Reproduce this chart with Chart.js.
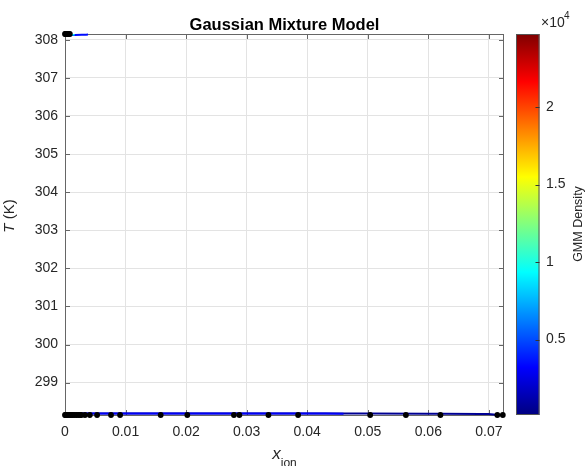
<!DOCTYPE html>
<html>
<head>
<meta charset="utf-8">
<script src="https://cdn.jsdelivr.net/npm/chart.js@4.4.1/dist/chart.umd.min.js"></script>
<style>
html,body{margin:0;padding:0;background:#fff;}
#wrap{position:relative;width:587px;height:466px;}
</style>
</head>
<body>
<div id="wrap"><canvas id="c" width="587" height="466"></canvas></div>
<script>
// ---- data ----
const xIonBottom = [0, 0.0001, 0.0002, 0.0003, 0.0005, 0.0007, 0.0009, 0.0011, 0.0013, 0.0016, 0.0019, 0.0022, 0.0025, 0.0027,
  0.0033, 0.0041, 0.0053, 0.0076, 0.0091, 0.0158, 0.0202, 0.0279, 0.0288, 0.0336, 0.0385, 0.0504, 0.0563, 0.0620, 0.0714, 0.0723];
const tBottom = 298.15;
const xIonTop = [0, 0.0001, 0.0002, 0.0004, 0.0006, 0.0008];
const tTop = 308.15;

// contour paths (x, T) and their density levels
const contourLowX = [0, 0.02, 0.04, 0.06, 0.0700, 0.0712];
const contourLowT = [298.187, 298.188, 298.187, 298.185, 298.178, 298.155];
const contourLowLevel = 600;
const contourMidX = [0, 0.01, 0.02, 0.03, 0.04, 0.046];
const contourMidT = [298.192, 298.192, 298.192, 298.191, 298.19, 298.186];
const contourMidLevel = 3000;
const contourTopX = [0.0003, 0.0015, 0.0028, 0.0038];
const contourTopT = [308.122, 308.124, 308.128, 308.136];
const contourTopLevel = 3500;
const contourTop2X = [0.0005, 0.0010, 0.0016];
const contourTop2T = [308.128, 308.129, 308.131];
const contourTop2Level = 9500;

const xTicks = [0, 0.01, 0.02, 0.03, 0.04, 0.05, 0.06, 0.07];
const yTicks = [299, 300, 301, 302, 303, 304, 305, 306, 307, 308];
const cbTicks = [5000, 10000, 15000, 20000];
const cbMin = 130, cbMax = 24720;
const xMin = 0, xMax = 0.0725, yMin = 298.15, yMax = 308.15;

// ---- jet colormap ----
function jet(t){
  t = Math.max(0, Math.min(1, t));
  const r = Math.max(0, Math.min(1, 1.5 - Math.abs(4*t - 3)));
  const g = Math.max(0, Math.min(1, 1.5 - Math.abs(4*t - 2)));
  const b = Math.max(0, Math.min(1, 1.5 - Math.abs(4*t - 1)));
  return `rgb(${Math.round(r*255)},${Math.round(g*255)},${Math.round(b*255)})`;
}
const levelColor = v => jet((v - cbMin)/(cbMax - cbMin));
const pts = (xs, ys) => xs.map((x,i)=>({x, y: Array.isArray(ys) ? ys[i] : ys}));

const FONT = "'Liberation Sans', Arial, Helvetica, sans-serif";
const TXT = '#262626';

const decor = {
  id: 'decor',
  beforeDatasetsDraw(chart){
    const ctx = chart.ctx, ca = chart.chartArea;
    const cb = chart.scales.cb;
    const xs = chart.scales.x, ys = chart.scales.y;
    ctx.save();
    // colorbar
    const top = cb.getPixelForValue(cbMax), bot = cb.getPixelForValue(cbMin);
    const x0 = ca.right + 12, w = 23.5;
    const g = ctx.createLinearGradient(0, bot, 0, top);
    for (let i=0;i<=40;i++){ g.addColorStop(i/40, jet(i/40)); }
    ctx.fillStyle = g;
    ctx.fillRect(x0, top, w, bot-top);
    ctx.strokeStyle = '#555'; ctx.lineWidth = 1;
    ctx.strokeRect(x0+0.5, top+0.5, w-1, bot-top-1);
    ctx.strokeStyle = '#333';
    cbTicks.forEach(v=>{
      const y = Math.round(cb.getPixelForValue(v))+0.5;
      ctx.beginPath(); ctx.moveTo(x0+w-4, y); ctx.lineTo(x0+w, y); ctx.stroke();
    });
    // axes box
    ctx.strokeStyle = '#666'; ctx.lineWidth = 1;
    ctx.strokeRect(Math.round(ca.left)+0.5, Math.round(ca.top)+0.5, Math.round(ca.right-ca.left)-1, Math.round(ca.bottom-ca.top));
    // inward ticks
    xTicks.forEach(v=>{
      const x = Math.round(xs.getPixelForValue(v))+0.5;
      ctx.beginPath(); ctx.moveTo(x, ca.bottom); ctx.lineTo(x, ca.bottom-5); ctx.stroke();
      ctx.beginPath(); ctx.moveTo(x, ca.top); ctx.lineTo(x, ca.top+5); ctx.stroke();
    });
    yTicks.forEach(v=>{
      const y = Math.round(ys.getPixelForValue(v))+0.5;
      ctx.beginPath(); ctx.moveTo(ca.left, y); ctx.lineTo(ca.left+5, y); ctx.stroke();
      ctx.beginPath(); ctx.moveTo(ca.right, y); ctx.lineTo(ca.right-5, y); ctx.stroke();
    });
    ctx.restore();
  },
  afterDraw(chart){
    const ctx = chart.ctx, ca = chart.chartArea;
    ctx.save();
    // title
    ctx.fillStyle = '#000';
    ctx.font = `bold 16.5px ${FONT}`;
    ctx.textAlign = 'center'; ctx.textBaseline = 'alphabetic';
    ctx.fillText('Gaussian Mixture Model', (ca.left+ca.right)/2, 30);
    // x label: x_ion
    ctx.fillStyle = TXT;
    ctx.font = `italic 17px ${FONT}`;
    const cx = (ca.left+ca.right)/2;
    ctx.textAlign = 'left';
    const wx = ctx.measureText('x').width;
    ctx.font = `12px ${FONT}`;
    const wi = ctx.measureText('ion').width;
    const sx = cx - (wx+wi)/2;
    ctx.font = `italic 17px ${FONT}`;
    ctx.fillText('x', sx, 459);
    ctx.font = `12px ${FONT}`;
    ctx.fillText('ion', sx+wx, 467);
    // y label: T (K)
    ctx.save();
    ctx.translate(14, 216);
    ctx.rotate(-Math.PI/2);
    ctx.font = `italic 15px ${FONT}`;
    const wT = ctx.measureText('T').width;
    ctx.font = `15px ${FONT}`;
    const wK = ctx.measureText(' (K)').width;
    ctx.textAlign = 'left';
    ctx.font = `italic 15px ${FONT}`;
    ctx.fillText('T', -(wT+wK)/2, 0);
    ctx.font = `15px ${FONT}`;
    ctx.fillText(' (K)', -(wT+wK)/2 + wT, 0);
    ctx.restore();
    // colorbar exponent
    ctx.font = `14px ${FONT}`;
    ctx.textAlign = 'left';
    ctx.fillText('\u00d710', 541, 27);
    ctx.font = `10px ${FONT}`;
    ctx.fillText('4', 564, 19);
    // colorbar label
    ctx.save();
    ctx.translate(582, 224);
    ctx.rotate(-Math.PI/2);
    ctx.font = `12.5px ${FONT}`;
    ctx.textAlign = 'center';
    ctx.fillText('GMM Density', 0, 0);
    ctx.restore();
    ctx.restore();
  }
};

const keepTicks = (list) => (scale) => {
  scale.ticks = list.map(v=>({value:v}));
};

new Chart(document.getElementById('c'), {
  type: 'scatter',
  data: {
    datasets: [
      { label:'obs bottom', data: pts(xIonBottom, tBottom), backgroundColor:'#000', borderColor:'#000',
        pointRadius: 2.9, pointBorderWidth: 0, showLine:false, clip:false },
      { label:'obs top', data: pts(xIonTop, tTop), backgroundColor:'#000', borderColor:'#000',
        pointRadius: 2.9, pointBorderWidth: 0, showLine:false, clip:false },
      { label:'c4', data: pts(contourTop2X, contourTop2T), showLine:true, borderColor: levelColor(contourTop2Level),
        borderWidth: 1.5, pointRadius:0, fill:false, tension:0.3, clip:false },
      { label:'c3', data: pts(contourTopX, contourTopT), showLine:true, borderColor: levelColor(contourTopLevel),
        borderWidth: 2, pointRadius:0, fill:false, tension:0.3, clip:false },
      { label:'c2', data: pts(contourMidX, contourMidT), showLine:true, borderColor: levelColor(contourMidLevel),
        borderWidth: 2, pointRadius:0, fill:false, tension:0.3, clip:false },
      { label:'c1', data: pts(contourLowX, contourLowT), showLine:true, borderColor: levelColor(contourLowLevel),
        borderWidth: 2, pointRadius:0, fill:false, tension:0.3, clip:false }
    ]
  },
  options: {
    responsive: false,
    animation: false,
    events: [],
    layout: { padding: { left: 0, right: 0, top: 34, bottom: 0 } },
    plugins: { legend: { display:false }, tooltip: { enabled:false }, title: { display:false } },
    scales: {
      x: {
        type:'linear', min:xMin, max:xMax,
        afterBuildTicks: keepTicks(xTicks),
        afterFit: s => { s.height = 51; },
        grid: { color:'#e3e3e3', drawTicks:false },
        border: { display:false },
        ticks: { color:TXT, font:{ family:FONT, size:14 }, padding:9, maxRotation:0, autoSkip:false,
          callback: v => v === 0 ? '0' : (Math.round(v*100)/100).toString() }
      },
      y: {
        type:'linear', min:yMin, max:yMax,
        afterBuildTicks: keepTicks(yTicks),
        afterFit: s => { s.width = 65; },
        grid: { color:'#e3e3e3', drawTicks:false },
        border: { display:false },
        ticks: { color:TXT, font:{ family:FONT, size:14 }, padding:7, autoSkip:false,
          callback: v => String(v) }
      },
      cb: {
        type:'linear', position:'right', min:cbMin, max:cbMax,
        afterBuildTicks: keepTicks(cbTicks),
        afterFit: s => { s.width = 83; },
        grid: { display:true, drawOnChartArea:false, drawTicks:true, tickLength:40, color:'rgba(0,0,0,0)' },
        border: { display:false },
        ticks: { color:TXT, font:{ family:FONT, size:14 }, padding:2, autoSkip:false,
          callback: v => String(v/10000) }
      }
    }
  },
  plugins: [decor]
});
</script>
</body>
</html>
